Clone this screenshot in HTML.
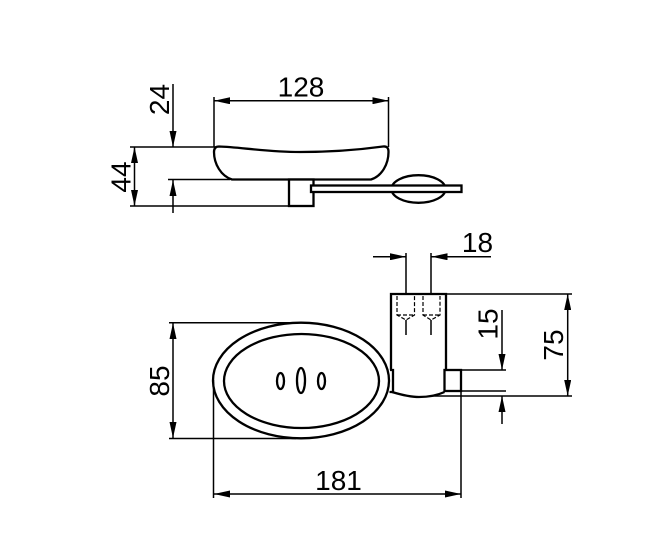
<!DOCTYPE html>
<html><head><meta charset="utf-8"><style>
html,body{margin:0;padding:0;background:#fff}
svg{display:block}
text{font-family:"Liberation Sans",sans-serif;font-size:28px;fill:#000;text-anchor:middle}
</style></head><body>
<svg width="657" height="558" viewBox="0 0 657 558" xmlns="http://www.w3.org/2000/svg">
<defs>
<marker id="a" viewBox="0 0 16 7" refX="16" refY="3.500" markerWidth="16" markerHeight="7" markerUnits="userSpaceOnUse" orient="auto-start-reverse"><path d="M0 0L16 3.500L0 7Z" fill="#000"/></marker>
</defs>
<g fill="none" stroke="#000" stroke-width="1.500">
<!-- top view dims -->
<path d="M214 97V147"/>
<path d="M388.500 97V147"/>
<path d="M214 100.700H388.500" marker-start="url(#a)" marker-end="url(#a)"/>
<path d="M173 84V147" marker-end="url(#a)"/>
<path d="M173 213V180" marker-end="url(#a)"/>
<path d="M130 147H216"/>
<path d="M168 179.500H230"/>
<path d="M130 206H289"/>
<path d="M134.500 147V206" marker-start="url(#a)" marker-end="url(#a)"/>
</g>
<g fill="none" stroke="#000" stroke-width="2.300">
<path d="M313 179.500H232C221 176 214 164 214 152C214 148 216 146.500 219 146.500C240 147 265 152 300 152C335 152 365 149 383 146.500C387 146 388.500 148 388.500 152C388.500 164 382 176 371 179.500H313"/>
<rect x="289" y="179.500" width="24.500" height="26.500" fill="#fff"/>
<ellipse cx="418.500" cy="189" rx="27" ry="13.800"/>
<rect x="311" y="185.500" width="150.500" height="6.500" fill="#fff"/>
<!-- front view -->
<ellipse cx="301" cy="380.500" rx="88" ry="57.800"/>
<ellipse cx="301.500" cy="381" rx="77.500" ry="47"/>
<ellipse cx="280.500" cy="381" rx="3.500" ry="8"/>
<ellipse cx="301" cy="380.500" rx="4" ry="12.500"/>
<ellipse cx="321.500" cy="381" rx="3.500" ry="8"/>
<path d="M391 370V294H446V370"/>
<path d="M392 392C402 395 412 397 419 397C430 397 438 395 444.500 392"/>
<path d="M390 370H393V392H389.500"/>
<rect x="444.500" y="370" width="16.500" height="21"/>
</g>
<g fill="none" stroke="#000" stroke-width="1.500">
<path d="M169 322.700H296"/>
<path d="M169 438.500H296"/>
<path d="M173 323V438" marker-start="url(#a)" marker-end="url(#a)"/>
<path d="M213.500 380V498"/>
<path d="M461 391V498"/>
<path d="M214 494H461" marker-start="url(#a)" marker-end="url(#a)"/>
<path d="M446 294H572"/>
<path d="M430 396H572"/>
<path d="M567.700 294V396" marker-start="url(#a)" marker-end="url(#a)"/>
<path d="M461 370H506"/>
<path d="M446 391H506"/>
<path d="M502 310V370" marker-end="url(#a)"/>
<path d="M502 424V396" marker-end="url(#a)"/>
<path d="M373 256.700H406" marker-end="url(#a)"/>
<path d="M491 256.700H431.500" marker-end="url(#a)"/>
<path d="M406 253V294M406 320V335"/>
<path d="M431 253V294M431 320V335"/>
</g>
<g fill="none" stroke="#000" stroke-width="1.200" stroke-dasharray="4 2">
<path d="M397 296V315L406 320L414.500 315V296"/>
<path d="M423 296V315L431 320L440 315V296"/>
<path d="M397 315H414.500"/>
<path d="M423 315H440"/>
</g>
<text x="301" y="96.500">128</text>
<text x="338.500" y="490">181</text>
<text x="477.500" y="252">18</text>
<text transform="translate(169 99.500) rotate(-90)">24</text>
<text transform="translate(130.500 177) rotate(-90)">44</text>
<text transform="translate(169 381) rotate(-90)">85</text>
<text transform="translate(497.500 324) rotate(-90)">15</text>
<text transform="translate(563 345) rotate(-90)">75</text>
</svg>
</body></html>
